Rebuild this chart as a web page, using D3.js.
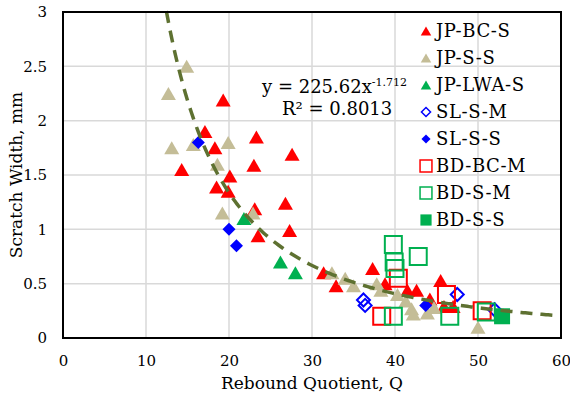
<!DOCTYPE html>
<html>
<head>
<meta charset="utf-8">
<script src="https://cdn.jsdelivr.net/npm/d3@7"></script>
<style>
  body { margin: 0; background: #fff; }
  text { font-family: "DejaVu Serif", "Liberation Serif", serif; fill: #000; }
</style>
</head>
<body>
<div id="chart"></div>
<script>
// values: [Rebound Quotient, Scratch Width]
const jpBcS = [
  [19.3, 2.19], [17.1, 1.9], [18.3, 1.75], [23.3, 1.85], [27.6, 1.69], [14.3, 1.55],
  [23.0, 1.59], [20.1, 1.49], [18.5, 1.39], [19.9, 1.35], [23.1, 1.19], [26.8, 1.24],
  [27.3, 0.99], [23.5, 0.94], [31.4, 0.6], [32.9, 0.48], [37.3, 0.64], [38.8, 0.5],
  [41.5, 0.44], [42.6, 0.44], [44.2, 0.36], [45.5, 0.53], [45.9, 0.29], [47.0, 0.29]
]
const jpSS = [
  [12.7, 2.25], [14.9, 2.5], [13.1, 1.75], [15.7, 1.78], [19.9, 1.8], [18.6, 1.6],
  [19.2, 1.15], [22.9, 1.15], [32.4, 0.6], [34.0, 0.55], [35.0, 0.48], [37.8, 0.5],
  [38.3, 0.44], [40.3, 0.4], [41.3, 0.34], [42.0, 0.27], [42.2, 0.22], [43.9, 0.23],
  [44.7, 0.28], [50.0, 0.1]
]
const jpLwaS = [[21.8, 1.1], [26.2, 0.7], [28.0, 0.6]]
const slSM = [[36.2, 0.35], [36.4, 0.3], [47.5, 0.4], [52.0, 0.26]]
const slSS = [[16.3, 1.8], [20.0, 1.0], [20.9, 0.85], [43.7, 0.3]]
const bdBcM = [[40.4, 0.55], [38.4, 0.2], [46.2, 0.4], [50.5, 0.25]]
const bdSM = [[39.8, 0.86], [39.9, 0.7], [40.0, 0.64], [42.8, 0.75], [39.8, 0.2], [46.6, 0.2], [51.0, 0.24]]
const bdSS = [[52.9, 0.2]]

const seriesNames = ['JP-BC-S', 'JP-S-S', 'JP-LWA-S', 'SL-S-M', 'SL-S-S', 'BD-BC-M', 'BD-S-M', 'BD-S-S']
const seriesData = [jpBcS, jpSS, jpLwaS, slSM, slSS, bdBcM, bdSM, bdSS]

const xTicks = [0, 10, 20, 30, 40, 50, 60]
const yTicks = [0, 0.5, 1, 1.5, 2, 2.5, 3]

// power trendline as printed on the chart: y = 225.62 x^-1.712
const trendCoef = 225.62
const trendExp = -1.712
const trendR2 = '0.8013'

// marker look per series
const styles = [
  { shape: 'triangle', color: '#ff0000', filled: true },
  { shape: 'triangle', color: '#c4bd97', filled: true },
  { shape: 'triangle', color: '#00b050', filled: true },
  { shape: 'diamond', color: '#0000ff', filled: false },
  { shape: 'diamond', color: '#0000ff', filled: true },
  { shape: 'square', color: '#ff0000', filled: false },
  { shape: 'square', color: '#00b050', filled: false },
  { shape: 'square', color: '#00b050', filled: true }
]

function markerPath(shape, filled, k) {
  if (shape === 'triangle') {
    const w = 7.5 * k, h = 13 * k
    return `M0,${-h / 2}L${w},${h / 2}L${-w},${h / 2}Z`
  }
  if (shape === 'diamond') {
    const r = 6.5 * k
    return `M0,${-r}L${r},0L0,${r}L${-r},0Z`
  }
  const s = (filled ? 8 : 8.5) * k
  return `M${-s},${-s}L${s},${-s}L${s},${s}L${-s},${s}Z`
}

const margin = { top: 12, right: 9, bottom: 56, left: 63 }
const width = 570 - margin.left - margin.right
const height = 394 - margin.top - margin.bottom

const svg = d3.select('#chart')
  .append('svg')
  .attr('width', 570)
  .attr('height', 394)

const xScale = d3.scaleLinear().domain([0, 60]).range([0, width])
const yScale = d3.scaleLinear().domain([0, 3]).range([height, 0])

const chart = svg.append('g')
  .attr('transform', `translate(${margin.left}, ${margin.top})`)

// gridlines
chart.append('g')
  .selectAll('line')
  .data(xTicks.slice(1, -1))
  .join('line')
  .attr('x1', (d) => xScale(d)).attr('x2', (d) => xScale(d))
  .attr('y1', 0).attr('y2', height)
  .attr('stroke', '#d9d9d9').attr('stroke-width', 1.5)

chart.append('g')
  .selectAll('line')
  .data(yTicks.slice(1, -1))
  .join('line')
  .attr('x1', 0).attr('x2', width)
  .attr('y1', (d) => yScale(d)).attr('y2', (d) => yScale(d))
  .attr('stroke', '#d9d9d9').attr('stroke-width', 1.5)

// axes (labels only, frame drawn separately)
const xAxis = chart.append('g')
  .attr('transform', `translate(0, ${height})`)
  .call(d3.axisBottom(xScale).tickValues(xTicks).tickSize(0).tickPadding(17))
xAxis.select('.domain').remove()
xAxis.selectAll('text').style('font-size', '15px').style('font-family', '"DejaVu Serif", serif')

const yAxis = chart.append('g')
  .call(d3.axisLeft(yScale).tickValues(yTicks).tickFormat(d3.format('')).tickSize(0).tickPadding(16))
yAxis.select('.domain').remove()
yAxis.selectAll('text').style('font-size', '15px').style('font-family', '"DejaVu Serif", serif')

// points
seriesData.forEach((data, i) => {
  const st = styles[i]
  chart.append('g')
    .selectAll('path')
    .data(data)
    .join('path')
    .attr('transform', (d) => `translate(${xScale(d[0])}, ${yScale(d[1])})`)
    .attr('d', markerPath(st.shape, st.filled, 1))
    .attr('fill', st.filled ? st.color : 'none')
    .attr('stroke', st.color)
    .attr('stroke-width', st.filled ? 0 : 2)
})

// trendline
const trendX = d3.range(12.45, 60.01, 0.25)
const line = d3.line()
  .x((d) => xScale(d))
  .y((d) => yScale(trendCoef * Math.pow(d, trendExp)))

chart.append('path')
  .attr('d', line(trendX))
  .attr('fill', 'none')
  .attr('stroke', '#5e7131')
  .attr('stroke-width', 3.5)
  .attr('stroke-dasharray', '12,8')

// frame
chart.append('rect')
  .attr('width', width).attr('height', height)
  .attr('fill', 'none').attr('stroke', '#000').attr('stroke-width', 2)

// equation
const eq = chart.append('text')
  .attr('x', 199).attr('y', 81)
  .style('font-size', '18px')
eq.append('tspan').text(`y = ${trendCoef}x`)
eq.append('tspan').attr('dy', -7).style('font-size', '11px').text(trendExp)

chart.append('text')
  .attr('x', 219).attr('y', 103)
  .style('font-size', '18px')
  .text(`R² = ${trendR2}`)

// legend
const legend = chart.append('g')
  .attr('transform', 'translate(363, 19)')

seriesNames.forEach((name, i) => {
  const st = styles[i]
  const row = legend.append('g').attr('transform', `translate(0, ${i * 27})`)
  row.append('path')
    .attr('d', markerPath(st.shape, st.filled, 0.7))
    .attr('fill', st.filled ? st.color : 'none')
    .attr('stroke', st.color)
    .attr('stroke-width', st.filled ? 0 : 1.5)
  row.append('text')
    .attr('x', 10).attr('dy', '0.35em')
    .style('font-size', '18px')
    .style('letter-spacing', '0.6px')
    .text(name)
})

// axis titles
svg.append('text')
  .attr('x', margin.left + width / 2).attr('y', 389)
  .attr('text-anchor', 'middle')
  .style('font-size', '17px')
  .text('Rebound Quotient, Q')

svg.append('text')
  .attr('transform', `translate(22, ${margin.top + height / 2}) rotate(-90)`)
  .attr('text-anchor', 'middle')
  .style('font-size', '17px')
  .text('Scratch Width, mm')
</script>
</body>
</html>
